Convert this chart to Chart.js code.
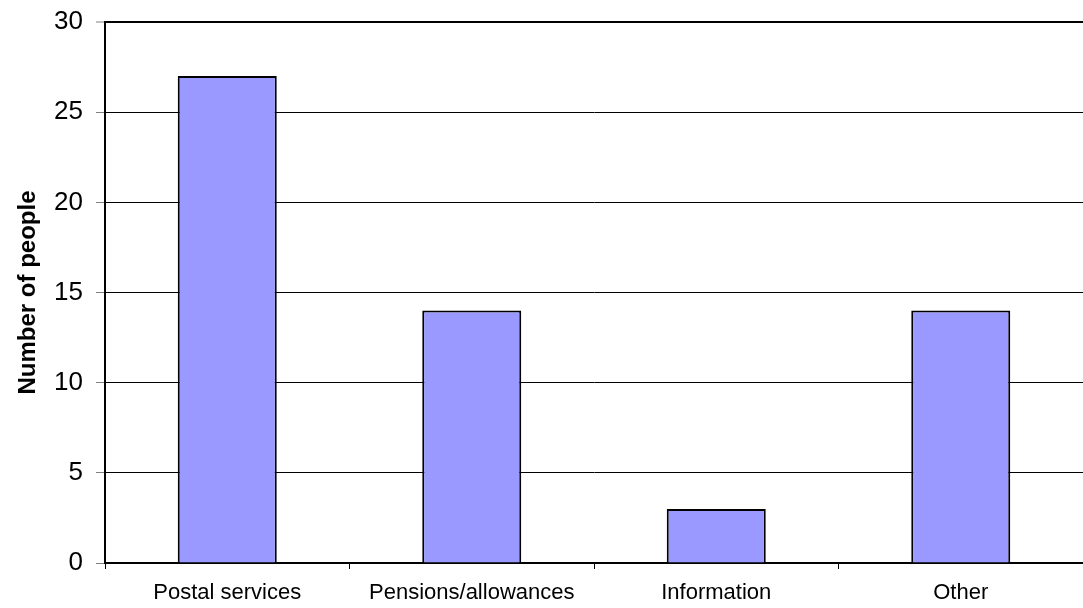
<!DOCTYPE html>
<html>
<head>
<meta charset="utf-8">
<script src="https://cdn.jsdelivr.net/npm/chart.js@4"></script>
<style>
  html, body { margin: 0; padding: 0; background: #fff; overflow: hidden; }
  #wrap { width: 1083px; height: 608px; }
</style>
</head>
<body>
<div id="wrap"><canvas id="chart"></canvas></div>
<script>
// data
const categories = ['Postal services', 'Pensions/allowances', 'Information', 'Other'];
const people = [27, 14, 3, 14];
const yTicks = [0, 5, 10, 15, 20, 25, 30];

const font = '"Liberation Sans", Arial, sans-serif';

const ctx = document.getElementById('chart').getContext('2d');
const chart = new Chart(ctx, {
    type: 'bar',
    data: {
        labels: categories,
        datasets: [{
            data: people,
            backgroundColor: '#9999ff',
            borderColor: '#000',
            borderWidth: 2,
            barPercentage: 0.405,
            categoryPercentage: 1
        }]
    },
    options: {
        responsive: true,
        maintainAspectRatio: false,
        animation: false,
        events: [],
        layout: { padding: { left: 14, top: 22, right: 0, bottom: 2 } },
        plugins: {
            legend: { display: false },
            tooltip: { enabled: false }
        },
        scales: {
            x: {
                afterFit: (axis) => {
                    axis.height = 43;
                },
                grid: {
                    drawOnChartArea: false,
                    drawTicks: true,
                    tickLength: 6,
                    color: '#000',
                    lineWidth: 1
                },
                border: { display: true, color: '#000', width: 2 },
                ticks: {
                    color: '#000',
                    padding: 11,
                    font: { family: font, size: 22 },
                    maxRotation: 0,
                    autoSkip: false
                }
            },
            y: {
                min: 0,
                max: 30,
                afterBuildTicks: (axis) => {
                    axis.ticks = yTicks.map(v => ({ value: v }));
                },
                afterFit: (axis) => {
                    axis.width = 91;
                    axis.paddingTop = 0;
                    axis.paddingBottom = 0;
                },
                grid: {
                    color: '#000',
                    lineWidth: (c) => (c.tick && c.tick.value === 30 ? 2 : 1),
                    tickLength: 9,
                    tickColor: '#808080',
                    tickWidth: 1
                },
                border: { display: true, color: '#000', width: 2 },
                ticks: {
                    color: '#000',
                    padding: 13,
                    font: { family: font, size: 26 }
                },
                title: {
                    display: true,
                    text: 'Number of people',
                    color: '#000',
                    font: { family: font, size: 24, weight: 'bold' },
                    padding: { top: 0, bottom: 0 }
                }
            }
        }
    }
});
</script>
</body>
</html>
